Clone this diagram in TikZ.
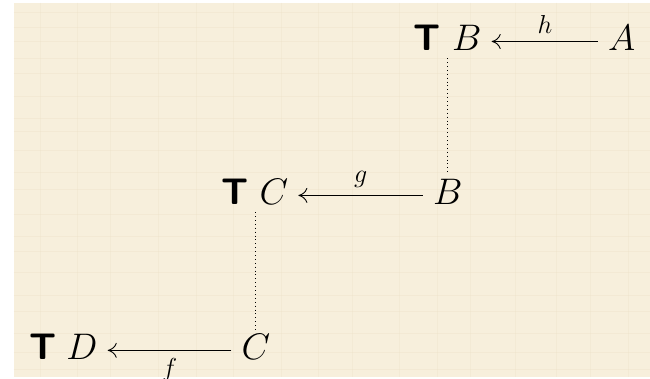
\RequirePackage{fix-cm}
\documentclass[tikz,border=0pt]{standalone}
\usepackage{fontspec}
\usetikzlibrary{arrows.meta}
\definecolor{parch}{RGB}{247,239,220}
\definecolor{parchline}{RGB}{236,224,198}
\begin{document}
\begin{tikzpicture}[x=1pt,y=-1pt,
  obj/.style={inner sep=0pt, anchor=base, font=\fontsize{37}{40}\selectfont},
  lab/.style={inner sep=7.5pt, font=\fontsize{26}{28}\selectfont},
  mor/.style={line width=0.9pt, -{Computer Modern Rightarrow[length=9pt,width=15pt,line width=0.9pt]}},
  dots/.style={line width=0.9pt, dash pattern=on 0.9pt off 3pt}]
\fill[white] (0,0) rectangle (650,379);
\fill[parch] (14,3) rectangle (650,377);
\foreach \yy in {12,27,41,58,73,96,118,131,150,172,189,214,236,251,272,295,311,333,352,369}
  \draw[parchline, line width=0.5pt, opacity=0.35] (14,\yy) -- (650,\yy);
\foreach \xx in {40,77,110,158,196,233,281,318,352,399,437,470,515,556,590,628}
  \draw[parchline, line width=0.5pt, opacity=0.3] (\xx,3) -- (\xx,377);
\useasboundingbox (0,0) rectangle (650,379);
% top row
\node[obj] (Tt) at (427,51) {\textsf{\bfseries T}};
\node[obj] (Bt) at (467,51) {$B$};
\node[obj] (At) at (622,51) {$A$};
% middle row
\node[obj] (Tm) at (235,205) {\textsf{\bfseries T}};
\node[obj] (Cm) at (274,205) {$C$};
\node[obj] (Bm) at (448,205) {$B$};
% bottom row
\node[obj] (Tb) at (43,360) {\textsf{\bfseries T}};
\node[obj] (Db) at (82,360) {$D$};
\node[obj] (Cb) at (256,360) {$C$};
% arrows
\draw[mor] ([shift={(-10pt,9.5pt)}]At.base west) -- ([shift={(10pt,9.5pt)}]Bt.base east)
  node[lab, midway, above] {$h$};
\draw[mor] ([shift={(-10pt,9.5pt)}]Bm.base west) -- ([shift={(10pt,9.5pt)}]Cm.base east)
  node[lab, midway, above] {$g$};
\draw[mor] ([shift={(-10pt,9.5pt)}]Cb.base west) -- ([shift={(10pt,9.5pt)}]Db.base east)
  node[lab, midway, below] {$f$};
% dotted links
\coordinate (d1) at ([yshift=-7pt]Bt.south);
\coordinate (d2) at ([yshift=-7pt]Cm.south);
\draw[dots] (d1 -| Bm) -- ([yshift=8pt]Bm.north);
\draw[dots] (d2 -| Cb) -- ([yshift=2pt]Cb.north);
\end{tikzpicture}
\end{document}
